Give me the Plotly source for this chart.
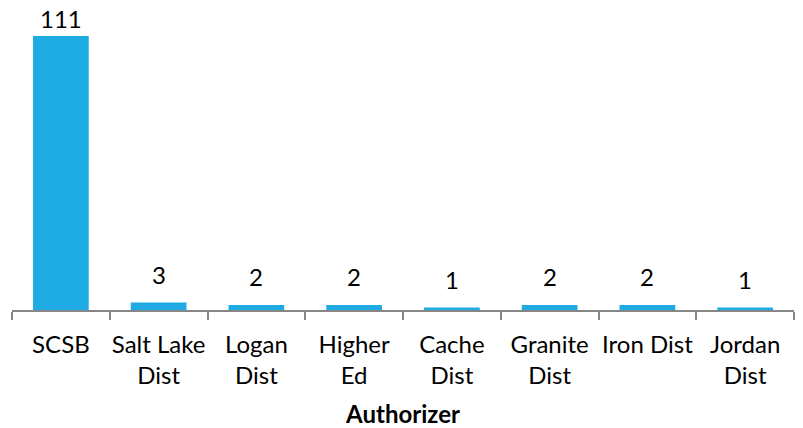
import plotly.graph_objects as go

categories = ["SCSB", "Salt Lake<br>Dist", "Logan<br>Dist", "Higher<br>Ed", "Cache<br>Dist",
              "Granite<br>Dist", "Iron Dist", "Jordan<br>Dist"]
values = [111, 3, 2, 2, 1, 2, 2, 1]

FONT = "Lato"
fig = go.Figure()
fig.add_trace(go.Bar(x=categories, y=values, marker=dict(color="#1EABE3", line=dict(width=0)),
                     cliponaxis=False, hoverinfo="skip"))

vmax = max(values)
for c, v in zip(categories, values):
    fig.add_annotation(x=c, y=v, text=str(v), showarrow=False, yanchor="bottom",
                       yshift=(1 if v == vmax else 12),
                       font=dict(family=FONT, size=24, color="#000000"))

fig.update_layout(
    width=803, height=428,
    margin=dict(l=12, r=9, t=36, b=118, autoexpand=False),
    plot_bgcolor="white", paper_bgcolor="white",
    bargap=0.43,
    showlegend=False,
    font=dict(family=FONT, size=24, color="#000000"),
)
fig.update_xaxes(
    type="category", showline=True, linecolor="#868686", linewidth=1.5,
    ticks="outside", ticklen=8, tickcolor="#868686", tickwidth=1.5,
    tickson="boundaries", showgrid=False, ticklabelstandoff=12, automargin=False,
    tickangle=0,
    tickfont=dict(family=FONT, size=24, color="#000000"),
    title=dict(text="<b>Authorizer</b>", font=dict(family=FONT, size=24, color="#000000"), standoff=18),
)
fig.update_yaxes(visible=False, range=[0, 111], showgrid=False, automargin=False)

fig.write_html("out.html", config={"displayModeBar": False},
               post_script="document.body.style.margin='0';")
